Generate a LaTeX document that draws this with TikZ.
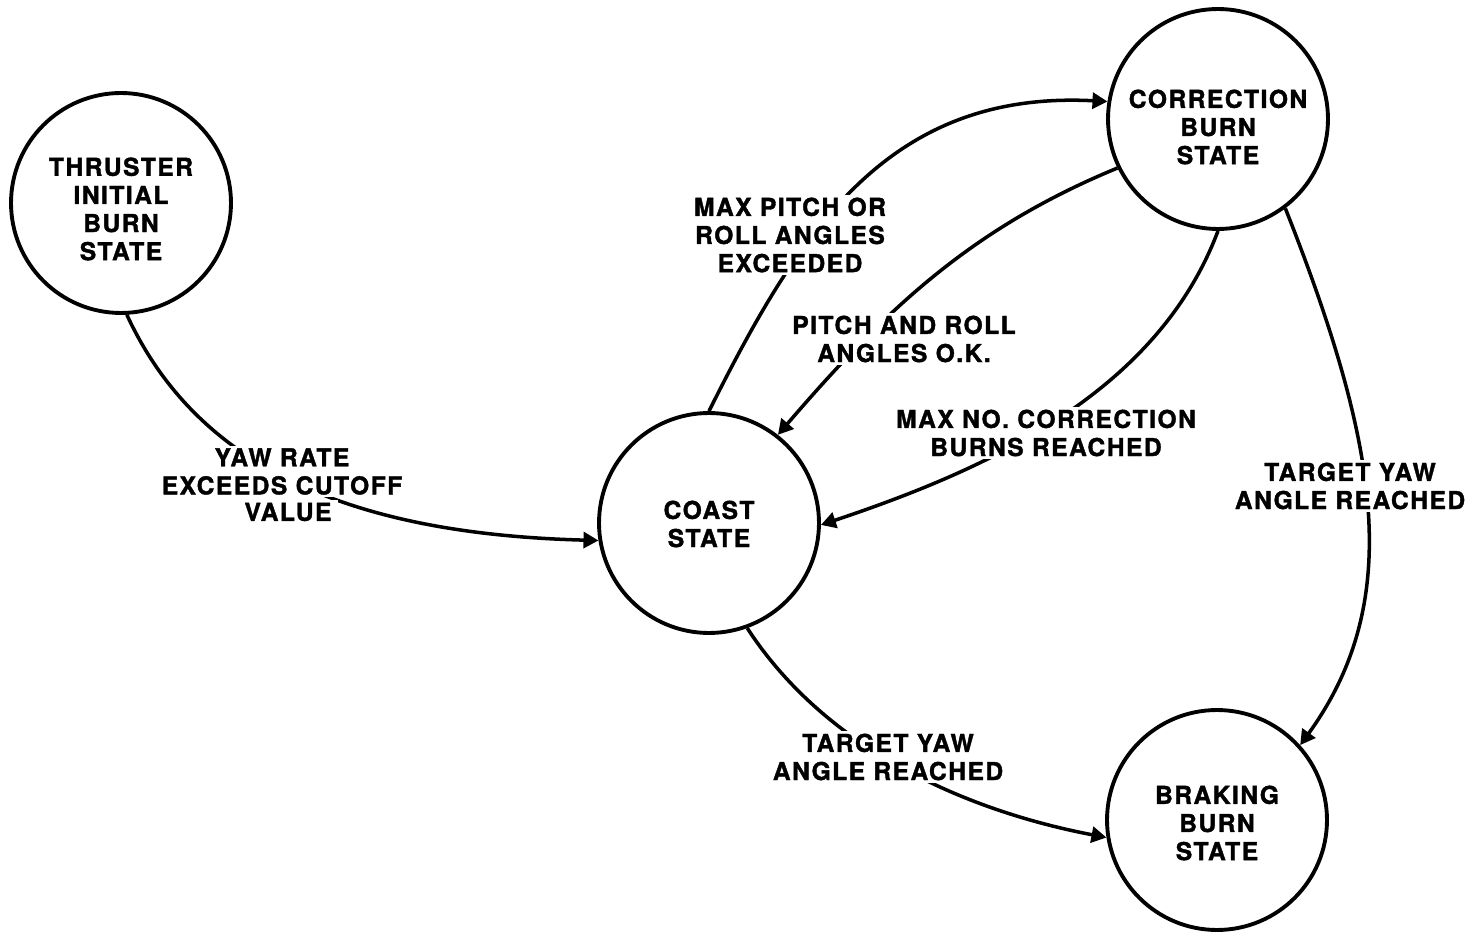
\documentclass[tikz,border=0pt]{standalone}
\usepackage{fontspec}
\setmainfont{TeX Gyre Heros}[LetterSpace=6, BoldFeatures={FakeBold=1.5}]
\usetikzlibrary{arrows.meta}
\begin{document}
\begin{tikzpicture}[x=0.02cm,y=-0.02cm,
  txt/.style={font=\fontsize{14pt}{16pt}\selectfont\bfseries, align=center, inner sep=1.5pt},
  state/.style={circle, draw, line width=2.2pt, minimum size=4.4cm, inner sep=0pt},
  lbl/.style={txt, fill=white},
  conn/.style={line width=2pt, -{Triangle[length=0.3cm,width=0.32cm]}}]
\path[use as bounding box] (0,0) rectangle (1481,932);
% states
\node[state] (thr)   at (121,203)  {};
\node[state] (cor)   at (1218,119) {};
\node[state] (coast) at (709,523)  {};
\node[state] (brak)  at (1217,820) {};
\node[txt] (thrt)   at (121,209)  {THRUSTER\\INITIAL\\BURN\\STATE};
\node[txt] (cort)   at (1218,127) {CORRECTION\\BURN\\STATE};
\node[txt] (coastt) at (709,524)  {COAST\\STATE};
\node[txt] (brakt)  at (1217,823) {BRAKING\\BURN\\STATE};
% connectors
\draw[conn] (thr.-87) .. controls (197,467) and (350,534) .. (coast.189);
\draw[conn] (coast.90) .. controls (798,233) and (887,90) .. (cor.171);
\draw[conn] (cor.206) .. controls (969.8,228.8) and (884,311.4) .. (coast.52);
\draw[conn] (cor.-90) .. controls (1156.8,393.7) and (985.4,470) .. (coast.-1);
\draw[conn] (cor.-53) .. controls (1377.5,441.5) and (1406,599) .. (brak.42);
\draw[conn] (coast.-70) .. controls (826.2,749.5) and (965.9,810.6) .. (brak.189);
% labels
\node[lbl] (l1)  at (282,471.5) {YAW RATE\\EXCEEDS CUTOFF};
\node[lbl, inner xsep=3.5pt] (l1b) at (288,512)  {VALUE};
\node[lbl] (l2) at (790,235)  {MAX PITCH OR\\ROLL ANGLES\\EXCEEDED};
\node[lbl] (l3) at (904,339)  {PITCH AND ROLL\\ANGLES O.K.};
\node[lbl] (l4) at (1046,433) {MAX NO. CORRECTION\\BURNS REACHED};
\node[lbl] (l5) at (1350,486) {TARGET YAW\\ANGLE REACHED};
\node[lbl] (l6) at (888,757)  {TARGET YAW\\ANGLE REACHED};
\end{tikzpicture}
\end{document}
